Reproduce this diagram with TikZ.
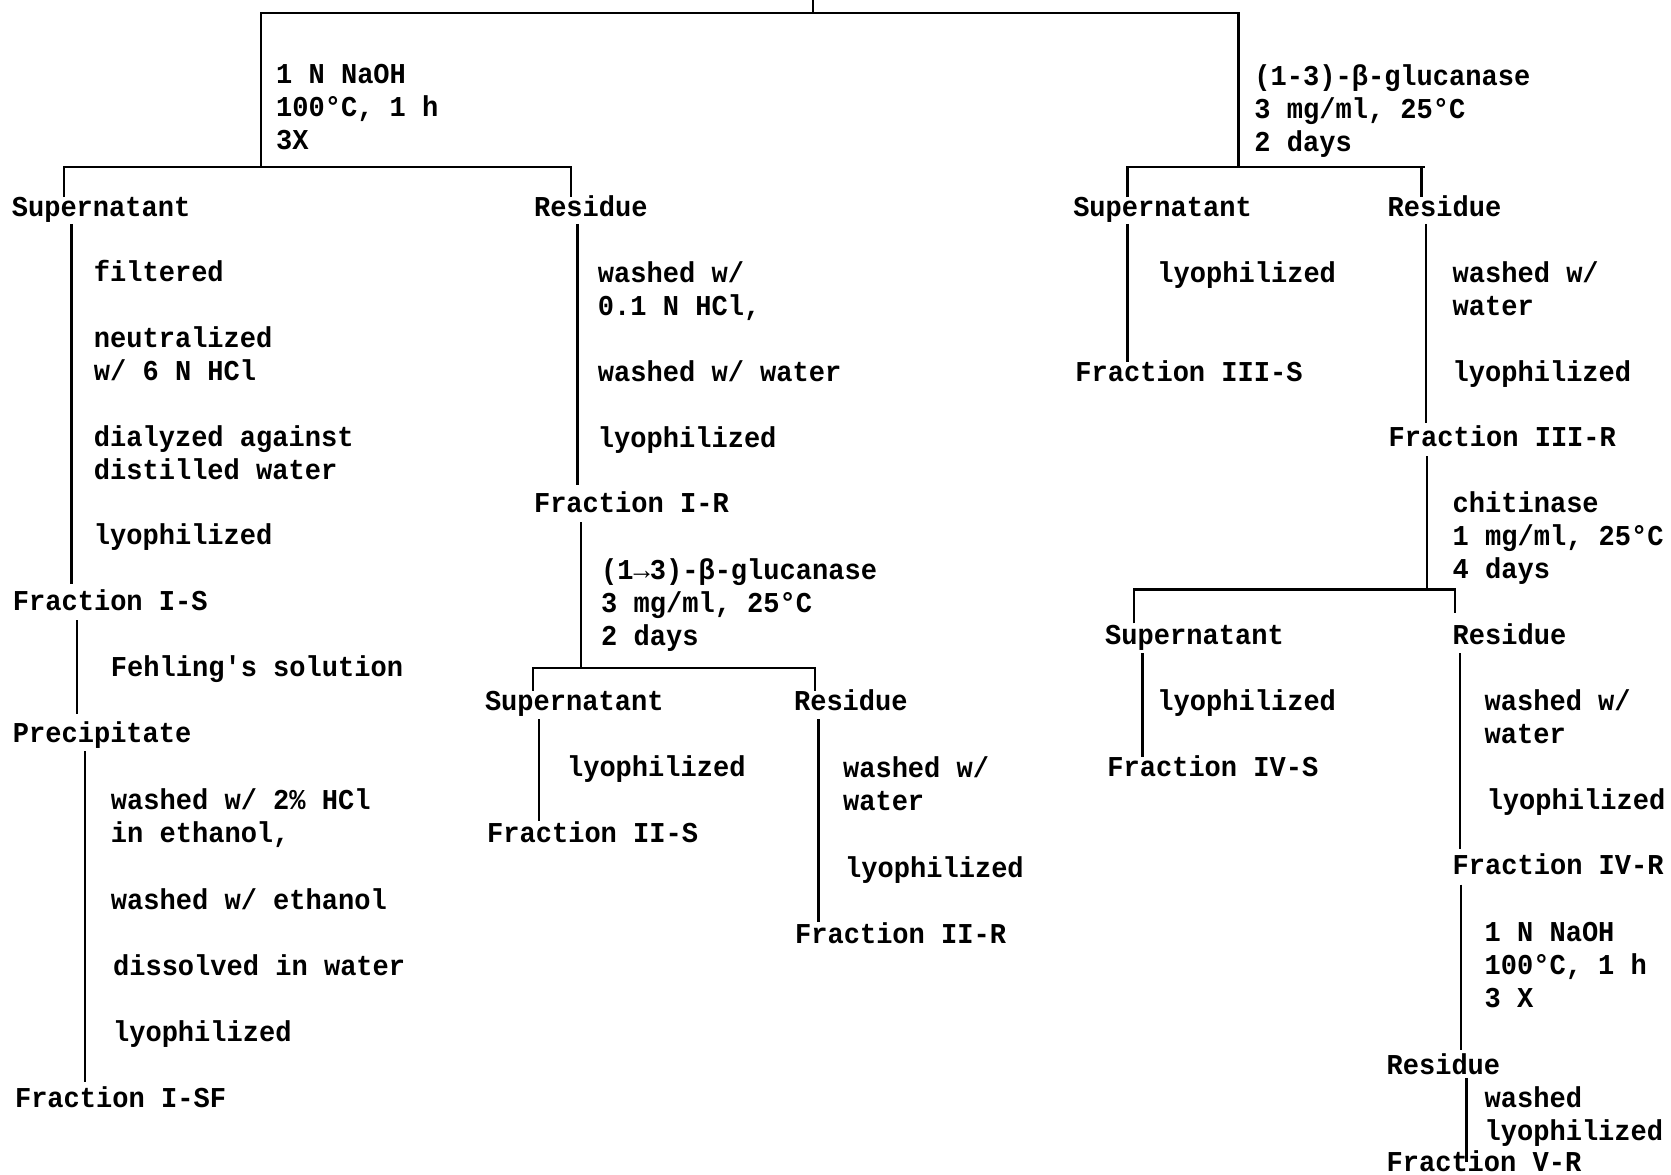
\documentclass[tikz,border=0pt]{standalone}
\usepackage{fontspec}
\newfontfamily\tw[FakeStretch=0.94]{Liberation Mono Bold}
\newcommand\ml[1]{\vtop{\baselineskip=31pt\lineskip=0pt\lineskiplimit=-100pt\halign{##\hfil\cr#1\crcr}}}
\begin{document}
\begin{tikzpicture}[x=1pt,y=-1pt,line width=2.2pt,
  txt/.style={anchor=base west,inner sep=0pt,yshift=-2pt,font=\tw\fontsize{27}{31}\selectfont},
  conn/.style={draw=black,line width=2.2pt}]
\useasboundingbox (0,0) rectangle (1568,1102);
% ---------- texts ----------
\node[txt] (naoh1) at (258,76) {\ml{1 N NaOH\cr 100°C, 1 h\cr 3X}};
\node[txt] (gluc1) at (1176,78) {\ml{(1-3)-β-glucanase\cr 3 mg/ml, 25°C\cr 2 days}};
\node[txt] (supA) at (10,201) {Supernatant};
\node[txt] (resA) at (500,201) {Residue};
\node[txt] (sA1) at (87,262) {filtered};
\node[txt] (sA2) at (87,324) {\ml{neutralized\cr w/ 6 N HCl}};
\node[txt] (sA3) at (87,417) {\ml{dialyzed against\cr distilled water}};
\node[txt] (sA4) at (87,509) {lyophilized};
\node[txt] (fIS) at (11,571) {Fraction I-S};
\node[txt] (feh) at (103,633) {Fehling's solution};
\node[txt] (prec) at (11,695) {Precipitate};
\node[txt] (pA1) at (103,758) {\ml{washed w/ 2\% HCl\cr in ethanol,}};
\node[txt] (pA2) at (103,851) {washed w/ ethanol};
\node[txt] (pA3) at (105,913) {dissolved in water};
\node[txt] (pA4) at (105,975) {lyophilized};
\node[txt] (fISF) at (13,1037) {Fraction I-SF};
\node[txt] (rA1) at (560,263) {\ml{washed w/\cr 0.1 N HCl,}};
\node[txt] (rA2) at (560,356) {washed w/ water};
\node[txt] (rA3) at (560,418) {lyophilized};
\node[txt] (fIR) at (500,479) {Fraction I-R};
\node[txt] (gluc2) at (563,542) {\ml{(1→3)-β-glucanase\cr 3 mg/ml, 25°C\cr 2 days}};
\node[txt] (supB) at (454,665) {Supernatant};
\node[txt] (resB) at (744,665) {Residue};
\node[txt] (sB1) at (531,727) {lyophilized};
\node[txt] (fIIS) at (456,789) {Fraction II-S};
\node[txt] (rB1) at (790,728) {\ml{washed w/\cr water}};
\node[txt] (rB2) at (792,821) {lyophilized};
\node[txt] (fIIR) at (745,883) {Fraction II-R};
\node[txt] (supC) at (1006,201) {Supernatant};
\node[txt] (resC) at (1301,201) {Residue};
\node[txt] (sC1) at (1085,263) {lyophilized};
\node[txt] (fIIIS) at (1008,356) {Fraction III-S};
\node[txt] (rC1) at (1362,263) {\ml{washed w/\cr water}};
\node[txt] (rC2) at (1362,356) {lyophilized};
\node[txt] (fIIIR) at (1302,417) {Fraction III-R};
\node[txt] (chit) at (1362,479) {\ml{chitinase\cr 1 mg/ml, 25°C\cr 4 days}};
\node[txt] (supD) at (1036,603) {Supernatant};
\node[txt] (resD) at (1362,603) {Residue};
\node[txt] (sD1) at (1085,665) {lyophilized};
\node[txt] (fIVS) at (1038,727) {Fraction IV-S};
\node[txt] (rD1) at (1392,665) {\ml{washed w/\cr water}};
\node[txt] (rD2) at (1394,758) {lyophilized};
\node[txt] (fIVR) at (1362,819) {Fraction IV-R};
\node[txt] (naoh2) at (1392,881) {\ml{1 N NaOH\cr 100°C, 1 h\cr 3 X}};
\node[txt] (resE) at (1300,1006) {Residue};
\node[txt] (rE1) at (1392,1037) {\ml{washed\cr lyophilized}};
\node[txt] (fVR) at (1300,1097) {Fraction V-R};
% ---------- junction points ----------
\coordinate (c0) at (763,0);   \coordinate (c1) at (763,12);
\coordinate (hL) at (245,12);  \coordinate (hR) at (1162,12);
\coordinate (hL2) at (245,157); \coordinate (hR2) at (1162,157);
\coordinate (aL) at (60,157);  \coordinate (aR) at (536,157);
\coordinate (aLd) at (60,185); \coordinate (aRd) at (536,185);
\coordinate (s1t) at (67,210); \coordinate (s1b) at (67,548);
\coordinate (s2t) at (72,582); \coordinate (s2b) at (72,670);
\coordinate (s3t) at (80,705); \coordinate (s3b) at (80,1015);
\coordinate (r1t) at (542,210); \coordinate (r1b) at (542,455);
\coordinate (r2t) at (545,490); \coordinate (r2b) at (545,627);
\coordinate (bL) at (500,627); \coordinate (bR) at (765,627);
\coordinate (bLd) at (500,648); \coordinate (bRd) at (765,648);
\coordinate (s4t) at (506,675); \coordinate (s4b) at (506,770);
\coordinate (r3t) at (768,675); \coordinate (r3b) at (768,865);
\coordinate (cL) at (1058,157); \coordinate (cR) at (1337,157);
\coordinate (cLd) at (1058,185); \coordinate (cRt) at (1334,157); \coordinate (cRd) at (1334,185);
\coordinate (s5t) at (1058,210); \coordinate (s5b) at (1058,340);
\coordinate (r4t) at (1338,210); \coordinate (r4b) at (1338,397);
\coordinate (r5t) at (1339,428); \coordinate (r5b) at (1339,553);
\coordinate (dL) at (1064,553); \coordinate (dR) at (1365,553);
\coordinate (dLd) at (1064,585); \coordinate (dRd) at (1365,575);
\coordinate (s6t) at (1072,613); \coordinate (s6b) at (1072,710);
\coordinate (r6t) at (1370,613); \coordinate (r6b) at (1370,797);
\coordinate (r7t) at (1371,830); \coordinate (r7b) at (1371,985);
\coordinate (r8t) at (1376,1012); \coordinate (r8b) at (1376,1090);
% ---------- connectors ----------
\draw[conn] (c0) -- (c1);
\draw[conn] (hL2) -- (hL) -- (hR) -- (hR2);
\draw[conn] (aLd) -- (aL) -- (aR) -- (aRd);
\draw[conn] (s1t) -- (s1b);
\draw[conn] (s2t) -- (s2b);
\draw[conn] (s3t) -- (s3b);
\draw[conn] (r1t) -- (r1b);
\draw[conn] (r2t) -- (r2b);
\draw[conn] (bLd) -- (bL) -- (bR) -- (bRd);
\draw[conn] (s4t) -- (s4b);
\draw[conn] (r3t) -- (r3b);
\draw[conn] (cLd) -- (cL) -- (cR);
\draw[conn] (cRt) -- (cRd);
\draw[conn] (s5t) -- (s5b);
\draw[conn] (r4t) -- (r4b);
\draw[conn] (r5t) -- (r5b);
\draw[conn] (dLd) -- (dL) -- (dR) -- (dRd);
\draw[conn] (s6t) -- (s6b);
\draw[conn] (r6t) -- (r6b);
\draw[conn] (r7t) -- (r7b);
\draw[conn] (r8t) -- (r8b);
\end{tikzpicture}
\end{document}
